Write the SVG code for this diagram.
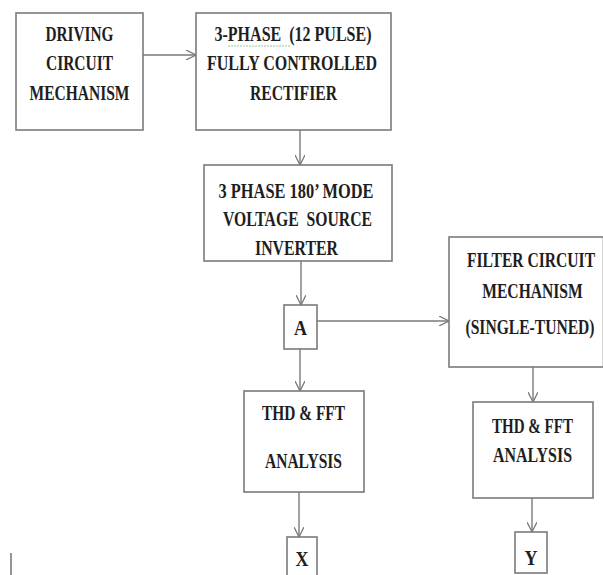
<svg xmlns="http://www.w3.org/2000/svg" width="603" height="575" viewBox="0 0 603 575">
<style>
.box{fill:#fff;stroke:#7a7a7a;stroke-width:1.6}
.t{font-family:"Liberation Serif","Times New Roman",serif;font-weight:bold;font-size:20px;fill:#1e1e1e;text-anchor:middle}
.c{fill:none;stroke:#7a7a7a;stroke-width:1.4}
</style>
<defs>
<marker id="ah" viewBox="0 0 10 10" refX="10" refY="5" markerWidth="10" markerHeight="10" markerUnits="userSpaceOnUse" orient="auto">
<path d="M0,0 L10,5 L0,10" fill="none" stroke="#7a7a7a" stroke-width="1.3"/>
</marker>
</defs>
<rect width="603" height="575" fill="#fff"/>
<g id="connectors">
<line class="c" x1="143" y1="55" x2="196" y2="55" marker-end="url(#ah)"/>
<line class="c" x1="300" y1="130" x2="300" y2="165" marker-end="url(#ah)"/>
<line class="c" x1="301" y1="261" x2="301" y2="305" marker-end="url(#ah)"/>
<line class="c" x1="317" y1="321" x2="449" y2="321" marker-end="url(#ah)"/>
<line class="c" x1="300" y1="349" x2="300" y2="391" marker-end="url(#ah)"/>
<line class="c" x1="533" y1="367" x2="533" y2="402" marker-end="url(#ah)"/>
<line class="c" x1="299" y1="492" x2="299" y2="537" marker-end="url(#ah)"/>
<line class="c" x1="532" y1="498" x2="532" y2="532" marker-end="url(#ah)"/>
</g>
<g id="driving">
<rect class="box" x="16" y="13" width="127" height="117"/>
<text class="t" x="79.5" y="41" textLength="68" lengthAdjust="spacingAndGlyphs">DRIVING</text>
<text class="t" x="79.5" y="70" textLength="67" lengthAdjust="spacingAndGlyphs">CIRCUIT</text>
<text class="t" x="79.5" y="100" textLength="100" lengthAdjust="spacingAndGlyphs">MECHANISM</text>
</g>
<g id="rectifier">
<rect class="box" x="196" y="13" width="195" height="117"/>
<text class="t" x="293" y="41" textLength="157" lengthAdjust="spacingAndGlyphs" xml:space="preserve">3-PHASE  (12 PULSE)</text>
<line x1="228" y1="46" x2="290" y2="46" stroke="#9cc59c" stroke-width="1.2" stroke-dasharray="2,1"/>
<text class="t" x="292" y="70" textLength="170" lengthAdjust="spacingAndGlyphs">FULLY CONTROLLED</text>
<text class="t" x="293.5" y="100" textLength="87" lengthAdjust="spacingAndGlyphs">RECTIFIER</text>
</g>
<g id="inverter">
<rect class="box" x="204" y="165" width="188" height="96"/>
<text class="t" x="296" y="198" textLength="155" lengthAdjust="spacingAndGlyphs">3 PHASE 180’ MODE</text>
<text class="t" x="297.5" y="226" textLength="149" lengthAdjust="spacingAndGlyphs" xml:space="preserve">VOLTAGE  SOURCE</text>
<text class="t" x="296.5" y="255" textLength="83" lengthAdjust="spacingAndGlyphs">INVERTER</text>
</g>
<g id="nodeA">
<rect class="box" x="284" y="305" width="33" height="44"/>
<text class="t" x="300.5" y="335" textLength="13" lengthAdjust="spacingAndGlyphs">A</text>
</g>
<g id="filter">
<rect class="box" x="449" y="237" width="154.5" height="130"/>
<g transform="translate(531,0) scale(0.78,1)">
<text class="t" x="0" y="267">FILTER CIRCUIT</text>
<text class="t" x="1.9" y="298">MECHANISM</text>
<text class="t" x="-1.3" y="334">(SINGLE-TUNED)</text>
</g>
</g>
<g id="thd1">
<rect class="box" x="244" y="391" width="120" height="101"/>
<text class="t" x="303.5" y="420" textLength="83" lengthAdjust="spacingAndGlyphs">THD &amp; FFT</text>
<text class="t" x="303.5" y="468" textLength="77" lengthAdjust="spacingAndGlyphs">ANALYSIS</text>
</g>
<g id="thd2">
<rect class="box" x="473" y="402" width="120" height="96"/>
<text class="t" x="532.5" y="433" textLength="81" lengthAdjust="spacingAndGlyphs">THD &amp; FFT</text>
<text class="t" x="532.5" y="462" textLength="79" lengthAdjust="spacingAndGlyphs">ANALYSIS</text>
</g>
<g id="nodeX">
<rect class="box" x="287" y="537" width="30" height="42"/>
<text class="t" x="302" y="566" textLength="13" lengthAdjust="spacingAndGlyphs">X</text>
</g>
<g id="nodeY">
<rect class="box" x="515" y="532" width="32" height="41"/>
<text class="t" x="531" y="565" textLength="13" lengthAdjust="spacingAndGlyphs">Y</text>
</g>
<line x1="11" y1="553" x2="11" y2="575" stroke="#666" stroke-width="1.4"/>
</svg>
